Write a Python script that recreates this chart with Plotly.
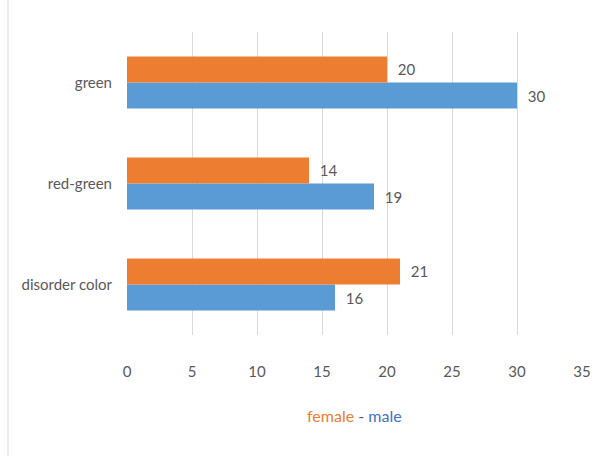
import plotly.graph_objects as go

categories = ["disorder color", "red-green", "green"]
female = [21, 14, 20]
male = [16, 19, 30]
x_ticks = [0, 5, 10, 15, 20, 25, 30, 35]

FONT = "Lato, 'Open Sans', sans-serif"
GRAY = "#595959"

fig = go.Figure()
fig.add_trace(go.Bar(y=categories, x=male, orientation="h", name="male",
                     marker=dict(color="#5B9BD5", line=dict(width=0)),
                     text=male, texttemplate="  %{x}", textposition="outside",
                     textfont=dict(color=GRAY, size=15, family=FONT), cliponaxis=False))
fig.add_trace(go.Bar(y=categories, x=female, orientation="h", name="female",
                     marker=dict(color="#ED7D31", line=dict(width=0)),
                     text=female, texttemplate="  %{x}", textposition="outside",
                     textfont=dict(color=GRAY, size=15, family=FONT), cliponaxis=False))

w_plot = 605 - 127 - 23
h_plot = 456 - 32 - 121

fig.update_layout(
    width=605, height=456,
    margin=dict(l=127, r=23, t=32, b=121),
    paper_bgcolor="white", plot_bgcolor="white",
    barmode="group", bargap=0.485, bargroupgap=0,
    showlegend=False,
    font=dict(family=FONT, color=GRAY, size=15),
    xaxis=dict(range=[0, 35], tickvals=x_ticks, showgrid=True, gridcolor="#D9D9D9",
               gridwidth=1, zeroline=False, showline=False, ticks="",
               ticklabelstandoff=26, tickfont=dict(size=15, color=GRAY)),
    yaxis=dict(showgrid=False, zeroline=False, showline=False, ticks="",
               ticklabelstandoff=14, tickfont=dict(size=15, color=GRAY)),
    annotations=[dict(
        text="<span style='color:#ED7D31'>female</span> - <span style='color:#4472C4'>male</span>",
        x=(354 - 127) / w_plot, y=(456 - 121 - 415) / h_plot,
        xref="paper", yref="paper", xanchor="center", yanchor="middle",
        showarrow=False, font=dict(size=16, family=FONT, color=GRAY))],
)

fig.add_shape(type="line", xref="paper", yref="paper",
              x0=(8 - 127) / w_plot, x1=(8 - 127) / w_plot,
              y0=(456 - 121 - 456) / h_plot, y1=(456 - 121 - 0) / h_plot,
              line=dict(color="#D9D9D9", width=1))

fig.write_html("out.html")
